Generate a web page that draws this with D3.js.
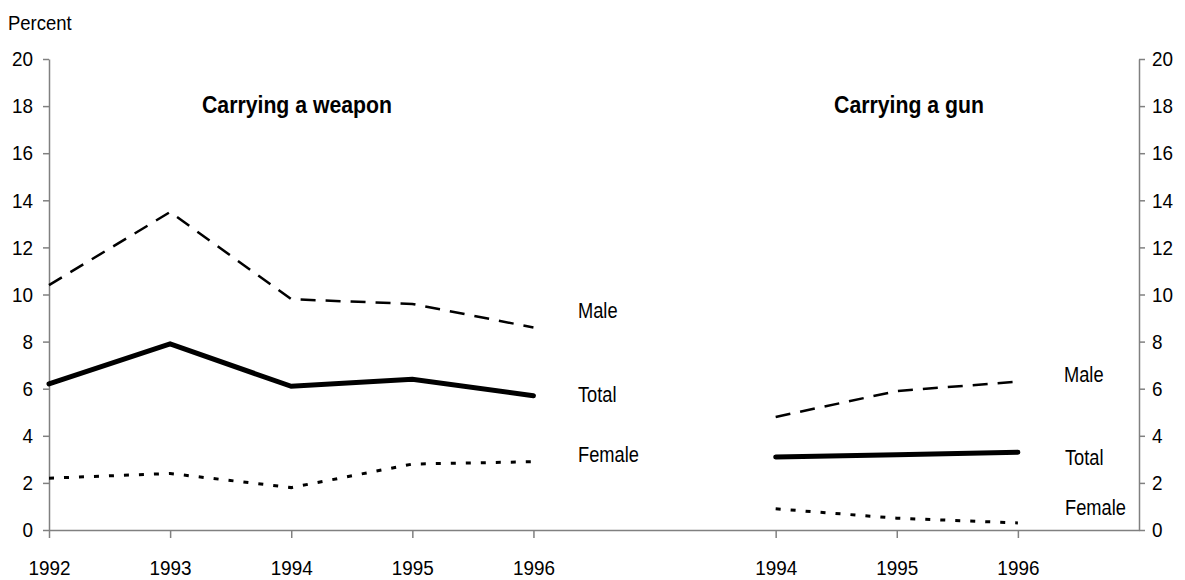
<!DOCTYPE html>
<html>
<head>
<meta charset="utf-8">
<script src="https://cdn.jsdelivr.net/npm/d3@7"></script>
<style>
  body { margin: 0; background: #fff; }
  svg text { font-family: "Liberation Sans", Arial, sans-serif; fill: #000; }
  .axis path, .axis line { stroke: #808080; stroke-width: 1.5; }
</style>
</head>
<body>
<div id="chart"></div>
<script>
// slots 0-4: weapon panel, 6-8: gun panel
const weaponYears = ["1992", "1993", "1994", "1995", "1996"];
const gunYears = ["1994", "1995", "1996"];
const weaponSlots = [0, 1, 2, 3, 4];
const gunSlots = [6, 7, 8];

const weaponMale = [10.4, 13.5, 9.8, 9.6, 8.6];
const weaponTotal = [6.2, 7.9, 6.1, 6.4, 5.7];
const weaponFemale = [2.2, 2.4, 1.8, 2.8, 2.9];

const gunMale = [4.8, 5.9, 6.3];
const gunTotal = [3.1, 3.2, 3.3];
const gunFemale = [0.9, 0.5, 0.3];

const yTicks = [0, 2, 4, 6, 8, 10, 12, 14, 16, 18, 20];

const w = 1185;
const h = 580;

const svg = d3.select("#chart")
  .append("svg")
  .attr("width", w)
  .attr("height", h);

const xScale = d3.scaleLinear().domain([0, 9]).range([49, 1139]);
const yScale = d3.scaleLinear().domain([0, 20]).range([530, 59]);

// squeeze text horizontally to get a narrow face
function narrow(sel, s) {
  sel.each(function () {
    const x = +this.getAttribute("x") || 0;
    this.setAttribute("x", x / s);
    this.setAttribute("transform", "scale(" + s + ",1)");
  });
}

const labelOf = {};
weaponSlots.forEach((s, i) => labelOf[s] = weaponYears[i]);
gunSlots.forEach((s, i) => labelOf[s] = gunYears[i]);

const xAxisG = svg.append("g")
  .attr("class", "axis")
  .attr("transform", "translate(0," + yScale(0) + ")")
  .call(d3.axisBottom(xScale)
    .tickValues(weaponSlots.concat(gunSlots))
    .tickFormat((d) => labelOf[d])
    .tickSize(8)
    .tickSizeOuter(0)
    .tickPadding(22));

const yLeftG = svg.append("g")
  .attr("class", "axis")
  .attr("transform", "translate(" + xScale(0) + ",0)")
  .call(d3.axisLeft(yScale).tickValues(yTicks).tickSize(6).tickSizeOuter(0).tickPadding(10));

const yRightG = svg.append("g")
  .attr("class", "axis")
  .attr("transform", "translate(" + xScale(9) + ",0)")
  .call(d3.axisRight(yScale).tickValues(yTicks).tickSize(6).tickSizeOuter(0).tickPadding(7));

[xAxisG, yLeftG, yRightG].forEach((g) => {
  g.attr("font-size", 21).attr("font-family", null);
  narrow(g.selectAll("text"), 0.9);
});

const line = d3.line()
  .x((d) => xScale(d[0]))
  .y((d) => yScale(d[1]));

const styles = {
  male: { width: 2.5, dash: "15,10" },
  total: { width: 5, dash: null },
  female: { width: 3, dash: "5,10" }
};

function drawSeries(slots, values, st) {
  svg.append("path")
    .datum(slots.map((s, i) => [s, values[i]]))
    .attr("fill", "none")
    .attr("stroke", "#000")
    .attr("stroke-width", st.width)
    .attr("stroke-linecap", st.dash ? "butt" : "round")
    .attr("stroke-dasharray", st.dash)
    .attr("d", line);
}

drawSeries(weaponSlots, weaponMale, styles.male);
drawSeries(weaponSlots, weaponTotal, styles.total);
drawSeries(weaponSlots, weaponFemale, styles.female);
drawSeries(gunSlots, gunMale, styles.male);
drawSeries(gunSlots, gunTotal, styles.total);
drawSeries(gunSlots, gunFemale, styles.female);

// series labels
const labels = [
  { t: "Male", x: 578, y: 318 },
  { t: "Total", x: 578, y: 402 },
  { t: "Female", x: 578, y: 462 },
  { t: "Male", x: 1064, y: 382 },
  { t: "Total", x: 1065, y: 465 },
  { t: "Female", x: 1065, y: 515 }
];
const seriesLabels = svg.selectAll(".series-label")
  .data(labels)
  .enter()
  .append("text")
  .attr("class", "series-label")
  .attr("x", (d) => d.x)
  .attr("y", (d) => d.y)
  .attr("font-size", 22)
  .text((d) => d.t);
narrow(seriesLabels, 0.83);

const titles = svg.selectAll(".panel-title")
  .data([{ t: "Carrying a weapon", x: 297 }, { t: "Carrying a gun", x: 909 }])
  .enter()
  .append("text")
  .attr("class", "panel-title")
  .attr("x", (d) => d.x)
  .attr("y", 113)
  .attr("text-anchor", "middle")
  .attr("font-size", 24)
  .attr("font-weight", "bold")
  .text((d) => d.t);
narrow(titles, 0.885);

const pct = svg.append("text")
  .attr("x", 8)
  .attr("y", 30)
  .attr("font-size", 21)
  .text("Percent");
narrow(pct, 0.88);
</script>
</body>
</html>
